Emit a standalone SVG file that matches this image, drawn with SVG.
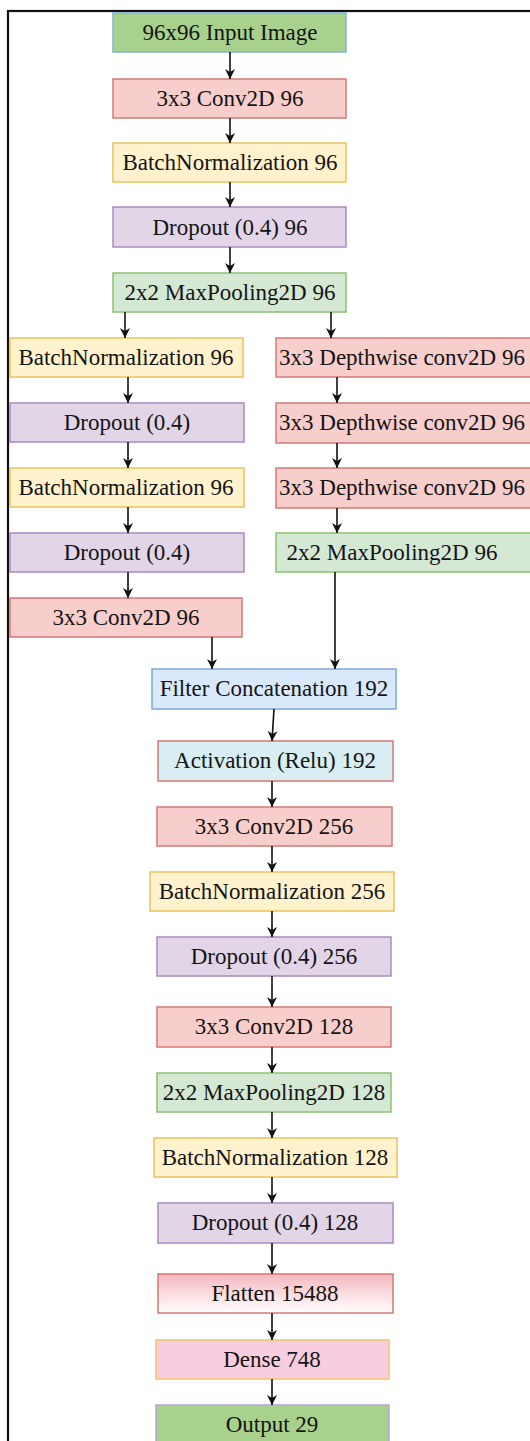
<svg xmlns="http://www.w3.org/2000/svg" width="530" height="1441" viewBox="0 0 530 1441">
<defs>
<style>
text{font-family:"Liberation Serif","Times New Roman",serif;font-size:23px;fill:#141414;text-anchor:middle}
.b{stroke-width:1.5}
.green{fill:#a9d18e}
.conv{fill:#f8cecc;stroke:#d27a76}
.bn{fill:#fff2cc;stroke:#e8c25e}
.drop{fill:#e1d5e7;stroke:#a98bbf}
.pool{fill:#d5e8d4;stroke:#8cc072}
.cat{fill:#dae8fc;stroke:#7ea6d8}
.act{fill:#d8eef3;stroke:#d27a76}
.dense{fill:#f8cde0;stroke:#f0c66a}
.edge{stroke:#111;stroke-width:1.6;fill:none;marker-end:url(#ah)}
</style>
<marker id="ah" viewBox="0 0 10 10" refX="10" refY="5" markerWidth="11" markerHeight="10" markerUnits="userSpaceOnUse" orient="auto">
<path d="M0,0 L10,5 L0,10 L3,5 Z" fill="#111"/>
</marker>
<linearGradient id="fg" x1="0" y1="0" x2="0" y2="1">
<stop offset="0" stop-color="#f4b8c0"/>
<stop offset="1" stop-color="#ffffff"/>
</linearGradient>
</defs>
<rect width="530" height="1441" fill="#fff"/>
<rect x="8" y="11" width="600" height="1500" fill="none" stroke="#111" stroke-width="2.2"/>

<g id="n-input"><rect class="b green" x="113" y="13" width="233" height="39" stroke="#7eb2dd"/><text x="230" y="40">96x96 Input Image</text></g>
<g id="n-conv96"><rect class="b conv" x="113" y="79" width="233" height="39"/><text x="230" y="106">3x3 Conv2D 96</text></g>
<g id="n-bn96"><rect class="b bn" x="113" y="143" width="233" height="39"/><text x="230" y="170">BatchNormalization 96</text></g>
<g id="n-drop96"><rect class="b drop" x="113" y="207" width="233" height="40"/><text x="230" y="235">Dropout (0.4) 96</text></g>
<g id="n-pool96"><rect class="b pool" x="113" y="273" width="233" height="39"/><text x="230" y="300">2x2 MaxPooling2D 96</text></g>

<g id="n-lbn1"><rect class="b bn" x="10" y="338" width="233" height="39"/><text x="126" y="365">BatchNormalization 96</text></g>
<g id="n-ldrop1"><rect class="b drop" x="10" y="403" width="234" height="39"/><text x="127" y="430">Dropout (0.4)</text></g>
<g id="n-lbn2"><rect class="b bn" x="10" y="468" width="234" height="39"/><text x="126" y="495">BatchNormalization 96</text></g>
<g id="n-ldrop2"><rect class="b drop" x="10" y="533" width="234" height="39"/><text x="127" y="560">Dropout (0.4)</text></g>
<g id="n-lconv"><rect class="b conv" x="10" y="598" width="232" height="39"/><text x="126" y="625">3x3 Conv2D 96</text></g>

<g id="n-dw1"><rect class="b conv" x="276" y="338" width="270" height="39"/><text x="402" y="365">3x3 Depthwise conv2D 96</text></g>
<g id="n-dw2"><rect class="b conv" x="276" y="403" width="270" height="40"/><text x="402" y="430">3x3 Depthwise conv2D 96</text></g>
<g id="n-dw3"><rect class="b conv" x="276" y="468" width="270" height="40"/><text x="402" y="495">3x3 Depthwise conv2D 96</text></g>
<g id="n-rpool"><rect class="b pool" x="276" y="533" width="270" height="39"/><text x="392" y="560">2x2 MaxPooling2D 96</text></g>

<g id="n-cat"><rect class="b cat" x="152" y="669" width="244" height="40"/><text x="274" y="696">Filter Concatenation 192</text></g>
<g id="n-act"><rect class="b act" x="158" y="741" width="235" height="40"/><text x="275" y="768">Activation (Relu) 192</text></g>
<g id="n-conv256"><rect class="b conv" x="157" y="807" width="235" height="39"/><text x="274" y="834">3x3 Conv2D 256</text></g>
<g id="n-bn256"><rect class="b bn" x="150" y="872" width="244" height="39"/><text x="272" y="899">BatchNormalization 256</text></g>
<g id="n-drop256"><rect class="b drop" x="157" y="937" width="234" height="39"/><text x="274" y="964">Dropout (0.4) 256</text></g>
<g id="n-conv128"><rect class="b conv" x="157" y="1007" width="234" height="40"/><text x="274" y="1034">3x3 Conv2D 128</text></g>
<g id="n-pool128"><rect class="b pool" x="157" y="1073" width="234" height="39"/><text x="274" y="1100">2x2 MaxPooling2D 128</text></g>
<g id="n-bn128"><rect class="b bn" x="154" y="1138" width="243" height="39"/><text x="275" y="1165">BatchNormalization 128</text></g>
<g id="n-drop128"><rect class="b drop" x="158" y="1203" width="235" height="40"/><text x="275" y="1230">Dropout (0.4) 128</text></g>
<g id="n-flat"><rect class="b" x="158" y="1274" width="235" height="39" fill="url(#fg)" stroke="#d27a76"/><text x="275" y="1301">Flatten 15488</text></g>
<g id="n-dense"><rect class="b dense" x="156" y="1340" width="233" height="39"/><text x="272" y="1367">Dense 748</text></g>
<g id="n-out"><rect class="b green" x="156" y="1405" width="233" height="45" stroke="#b4a7d6"/><text x="272" y="1432">Output 29</text></g>

<g id="connectors">
<path class="edge" d="M230,52 V79"/>
<path class="edge" d="M230,118 V143"/>
<path class="edge" d="M230,182 V207"/>
<path class="edge" d="M230,247 V273"/>
<path class="edge" d="M125,312 V338"/>
<path class="edge" d="M331,312 V338"/>
<path class="edge" d="M128,377 V403"/>
<path class="edge" d="M128,442 V468"/>
<path class="edge" d="M128,507 V533"/>
<path class="edge" d="M128,572 V598"/>
<path class="edge" d="M337,377 V403"/>
<path class="edge" d="M337,443 V468"/>
<path class="edge" d="M337,508 V533"/>
<path class="edge" d="M212,637 V669"/>
<path class="edge" d="M335,572 V669"/>
<path class="edge" d="M274,709 L272,741"/>
<path class="edge" d="M272,781 V807"/>
<path class="edge" d="M272,846 V872"/>
<path class="edge" d="M272,911 V937"/>
<path class="edge" d="M272,976 V1007"/>
<path class="edge" d="M272,1047 V1073"/>
<path class="edge" d="M272,1112 V1138"/>
<path class="edge" d="M272,1177 V1203"/>
<path class="edge" d="M272,1243 V1274"/>
<path class="edge" d="M272,1313 V1340"/>
<path class="edge" d="M272,1379 V1405"/>
</g>
</svg>
